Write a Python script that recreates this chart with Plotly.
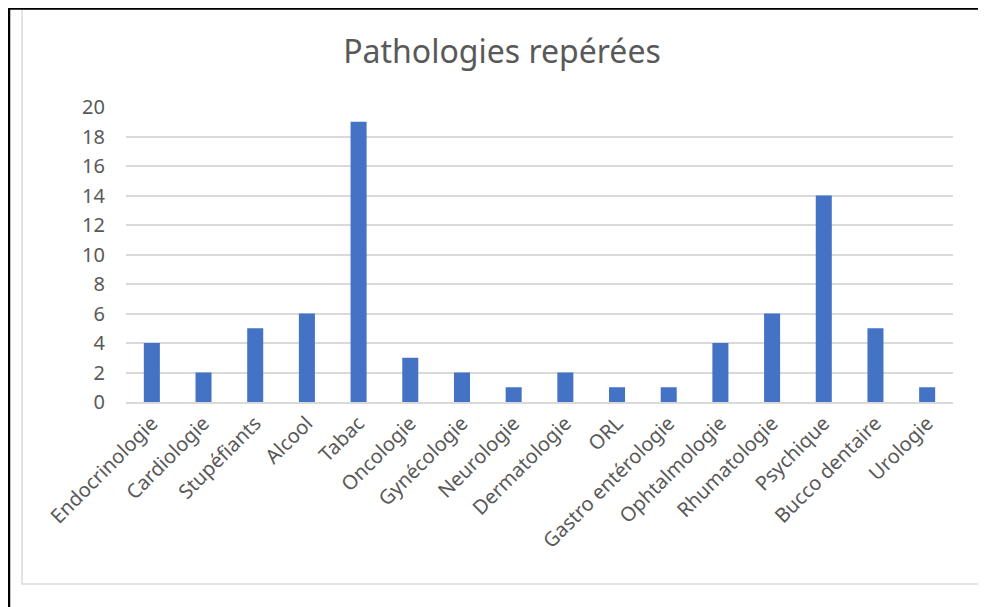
import plotly.graph_objects as go

categories = ["Endocrinologie", "Cardiologie", "Stupéfiants", "Alcool", "Tabac",
              "Oncologie", "Gynécologie", "Neurologie", "Dermatologie", "ORL",
              "Gastro entérologie", "Ophtalmologie", "Rhumatologie", "Psychique",
              "Bucco dentaire", "Urologie"]
values = [4, 2, 5, 6, 19, 3, 2, 1, 2, 1, 1, 4, 6, 14, 5, 1]
y_ticks = [0, 2, 4, 6, 8, 10, 12, 14, 16, 18, 20]

OFF = 8  # page body margin
W, H = 986 - OFF, 607 - OFF
L, R, T, B = 126 - OFF, 953 - OFF, 107 - OFF, 402 - OFF  # plot area in figure pixels

def px(x):  # x given in screen pixels
    return (x - OFF - L) / (R - L)

def py(y):
    return (B - (y - OFF)) / (B - T)

FONT = "Noto Sans"
GRAY = "#595959"

fig = go.Figure(go.Bar(
    x=categories, y=values,
    marker=dict(color="#4472C4", line=dict(width=0)),
    hoverinfo="x+y",
))

fig.update_layout(
    width=W, height=H,
    margin=dict(l=L, r=W - R, t=T, b=H - B, pad=0),
    paper_bgcolor="white", plot_bgcolor="white",
    bargap=0.69,
    showlegend=False,
    title=dict(text="Pathologies repérées", x=(502 - OFF) / W, xref="container", xanchor="center",
               y=1 - (52 - OFF) / H, yref="container", yanchor="middle",
               font=dict(family=FONT, size=32, color=GRAY)),
    font=dict(family=FONT, color=GRAY),
)
fig.update_xaxes(
    tickangle=-45, tickfont=dict(family=FONT, size=20, color=GRAY),
    showgrid=False, showline=True, linecolor="#d9d9d9", linewidth=1.5,
    ticks="", zeroline=False,
)
fig.update_yaxes(
    range=[0, 20], tickvals=y_ticks, tickfont=dict(family=FONT, size=20, color=GRAY),
    showgrid=True, gridcolor="#d9d9d9", gridwidth=1.5,
    zeroline=False, showline=False, ticks="", ticklabelstandoff=20,
)

shapes = [
    # chart area border (gray)
    dict(type="rect", xref="paper", yref="paper",
         x0=px(22), x1=px(982), y0=py(584), y1=py(9),
         line=dict(color="#dadada", width=1.5), fillcolor="rgba(0,0,0,0)", layer="below"),
    # outer black frame: left and top lines
    dict(type="line", xref="paper", yref="paper",
         x0=px(9), x1=px(9), y0=py(607), y1=py(8),
         line=dict(color="black", width=2.5)),
    dict(type="line", xref="paper", yref="paper",
         x0=px(8), x1=px(986), y0=py(8.5), y1=py(8.5),
         line=dict(color="black", width=2.5)),
]
fig.update_layout(shapes=shapes)

fig.write_html("out.html")
